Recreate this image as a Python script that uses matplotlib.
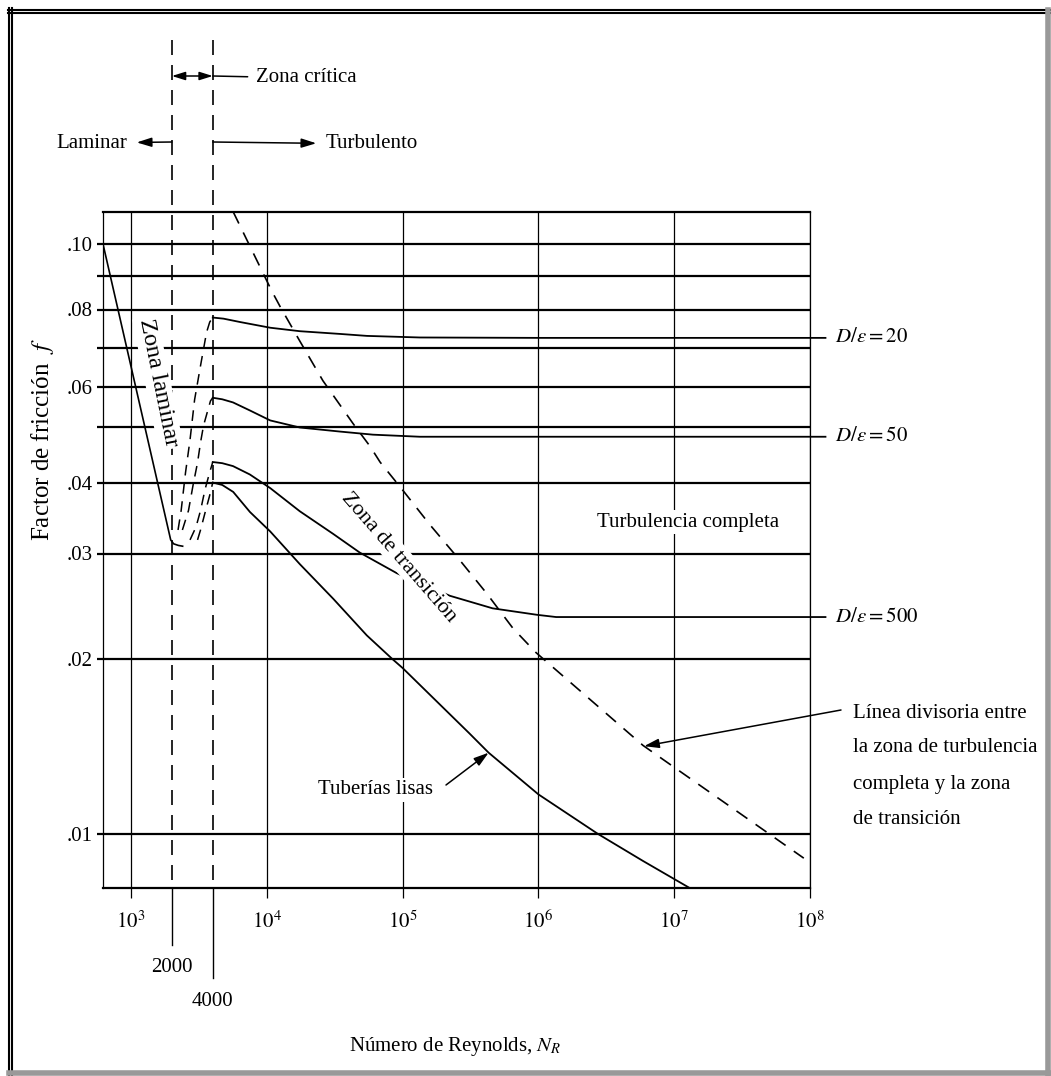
import numpy as np
import matplotlib
matplotlib.use("Agg")
import matplotlib.pyplot as plt
import matplotlib.transforms as mtransforms
from matplotlib.lines import Line2D
from matplotlib.ticker import FixedLocator, NullLocator, FixedFormatter

plt.rcParams['font.family'] = ['Liberation Serif', 'DejaVu Serif']
plt.rcParams['mathtext.fontset'] = 'stix'
plt.rcParams['font.size'] = 15

# ---- values (Re, f) ----
re_laminar = [622, 1960, 2060, 2230, 2400]
f_laminar = [0.100, 0.0317, 0.0312, 0.0310, 0.0309]

# dashed branches inside the critical zone (2000 < Re < 4000)
re_crit_20 = [2220, 2340, 2520, 2720, 2940, 3250, 3600, 3800, 4000]
f_crit_20 = [0.0330, 0.0357, 0.0416, 0.0474, 0.0565, 0.0652, 0.0739, 0.0766, 0.0778]
re_crit_50 = [2390, 2650, 2860, 3090, 3250, 3420, 3690, 3850, 4000]
f_crit_50 = [0.0330, 0.0357, 0.0395, 0.0433, 0.0469, 0.0502, 0.0540, 0.0562, 0.0570]
re_crit_500 = [2720, 3010, 3250, 3510, 3790, 4000]
f_crit_500 = [0.0317, 0.0334, 0.0357, 0.0389, 0.0416, 0.0434]
re_crit_smooth = [3090, 3250, 3510, 3790, 4000]
f_crit_smooth = [0.0317, 0.0330, 0.0354, 0.0379, 0.0400]

# turbulent curves
re_de20 = [4000, 4800, 6350, 10600, 17500, 34600, 54700, 134000, 1e6, 1.3e8]
f_de20 = [0.0778, 0.0775, 0.0766, 0.0751, 0.0742, 0.0735, 0.0730, 0.0726, 0.0725, 0.0725]
re_de50 = [4000, 4700, 5640, 7500, 10600, 17500, 34600, 60500, 134000, 1.3e8]
f_de50 = [0.0570, 0.0566, 0.0558, 0.0538, 0.0514, 0.0498, 0.0490, 0.0484, 0.0480, 0.0480]
re_de500 = [4000, 4700, 5640, 7500, 10600, 17500, 30700, 48500, 91000, 223000,
            460000, 980000, 1.35e6, 1.3e8]
f_de500 = [0.0434, 0.0432, 0.0427, 0.0413, 0.0391, 0.0356, 0.0325, 0.0301, 0.0278,
           0.0255, 0.0243, 0.0237, 0.0235, 0.0235]
re_smooth = [4000, 4700, 5660, 7510, 10600, 17500, 30900, 54500, 84000, 1e5, 3.1e5,
             4.3e5, 1e6, 2.75e6, 5.9e6, 1.3e7]
f_smooth = [0.0400, 0.0396, 0.0385, 0.0355, 0.0328, 0.0288, 0.0252, 0.0219, 0.0200,
            0.0193, 0.0149, 0.0138, 0.0117, 0.0100, 0.0090, 0.0081]

# dividing line between complete turbulence and transition zone
re_divider = [5640, 10900, 12500, 17500, 25900, 43100, 57600, 68200, 100000, 159000,
              265000, 418000, 650000, 960000, 5.9e6, 9.0e7]
f_divider = [0.1110, 0.0853, 0.0809, 0.0717, 0.0614, 0.0507, 0.0462, 0.0434, 0.0388,
             0.0337, 0.0292, 0.0257, 0.0225, 0.0205, 0.0142, 0.0091]

de_labels = [r'$D/\epsilon = 20$', r'$D/\epsilon = 50$', r'$D/\epsilon = 500$']

re_decades = [1e3, 1e4, 1e5, 1e6, 1e7, 1e8]
decade_labels = [r'$10^3$', r'$10^4$', r'$10^5$', r'$10^6$', r'$10^7$', r'$10^8$']
re_zone = [2000, 4000]
zone_labels = ['2000', '4000']

f_rulings = [0.01, 0.02, 0.03, 0.04, 0.05, 0.06, 0.07, 0.08, 0.09, 0.10]
f_ruling_labels = ['.01', '.02', '.03', '.04', '', '.06', '', '.08', '', '.10']

# ---- layout (pixels of the 1051x1076 picture) ----
W, H = 1051, 1076
AX_L, AX_R, AX_T, AX_B = 103, 810, 211.5, 888

# the printed f axis is only roughly logarithmic: rulings sit at these heights
scale_f = [0.001, 0.0081, 0.01, 0.02, 0.03, 0.04, 0.05, 0.06, 0.07, 0.08, 0.09, 0.10, 0.111, 1.0]
scale_px = [1416, 888, 834, 659, 553.5, 482.5, 426.5, 386.5, 348, 309.5, 276, 244, 211.5, -362]
log_sf = np.log10(scale_f)
neg_px = -np.array(scale_px, dtype=float)


def f_to_depth(v):
    v = np.clip(np.asarray(v, dtype=float), 1e-4, 10)
    return np.interp(np.log10(v), log_sf, neg_px)


def depth_to_f(d):
    return 10 ** np.interp(np.asarray(d, dtype=float), neg_px, log_sf)


def fig_x(px):
    return px / W


def fig_y(py):
    return 1 - py / H


def ax_y(py):
    return (AX_B - py) / (AX_B - AX_T)


def on_curve(re, xs, ys):
    return 10 ** np.interp(np.log10(re), np.log10(xs), np.log10(ys))


fig = plt.figure(figsize=(W / 100, H / 100), dpi=100)
ax = fig.add_axes([fig_x(AX_L), fig_y(AX_B), (AX_R - AX_L) / W, (AX_B - AX_T) / H])

ax.set_xscale('log')
ax.set_yscale('function', functions=(f_to_depth, depth_to_f))
ax.set_xlim(622, 1e8)
ax.set_ylim(0.0081, 0.111)

ax.xaxis.set_major_locator(FixedLocator(re_decades))
ax.xaxis.set_major_formatter(FixedFormatter(decade_labels))
ax.xaxis.set_minor_locator(NullLocator())
ax.yaxis.set_major_locator(FixedLocator(f_rulings))
ax.yaxis.set_major_formatter(FixedFormatter(f_ruling_labels))
ax.yaxis.set_minor_locator(NullLocator())

ax.tick_params(axis='x', direction='out', length=7.5, width=0.9, pad=9, labelsize=15)
ax.tick_params(axis='y', direction='out', length=4.5, width=1.6, pad=3, labelsize=15)
ax.grid(axis='y', color='black', lw=1.6)
ax.grid(axis='x', color='black', lw=0.9)
for side in ['top', 'bottom']:
    ax.spines[side].set_linewidth(1.6)
for side in ['left', 'right']:
    ax.spines[side].set_linewidth(0.9)

xtr = ax.get_xaxis_transform()

# critical zone boundaries: dashed through the chart, solid below it
for re, lab, py_end, py_lab in zip(re_zone, zone_labels, [945, 978], [968, 1002]):
    ax.plot([re, re], [ax_y(40), 0], transform=xtr, color='black', lw=1.2,
            dashes=(9, 6), clip_on=False)
    ax.plot([re, re], [0, ax_y(py_end)], transform=xtr, color='black', lw=1.0,
            clip_on=False)
    ax.text(re, ax_y(py_lab), lab, transform=xtr, ha='center', va='center')

# curves
ax.plot(re_laminar, f_laminar, color='black', lw=1.2)
for xs, ys in [(re_crit_20, f_crit_20), (re_crit_50, f_crit_50),
               (re_crit_500, f_crit_500), (re_crit_smooth, f_crit_smooth)]:
    ax.plot(xs, ys, color='black', lw=1.1, dashes=(7, 5))
for xs, ys in [(re_de20, f_de20), (re_de50, f_de50), (re_de500, f_de500)]:
    ax.plot(xs, ys, color='black', lw=1.3, clip_on=False)
ax.plot(re_smooth, f_smooth, color='black', lw=1.3)
ax.plot(re_divider, f_divider, color='black', lw=1.2, dashes=(8, 6))

# D/e labels next to the curve ends
lab_tr = mtransforms.blended_transform_factory(fig.transFigure, ax.transData)
for ys, lab in zip([f_de20, f_de50, f_de500], de_labels):
    ax.text(fig_x(835), ys[-1], lab, transform=lab_tr, ha='left', va='center')

# zone annotations above the chart
head = dict(color='black', lw=1.1, shrinkA=0, shrinkB=0)
ax.annotate('', xy=(re_zone[0], ax_y(76)), xycoords=xtr,
            xytext=(re_zone[1], ax_y(76)), textcoords=xtr,
            arrowprops=dict(arrowstyle='<|-|>,head_length=0.8,head_width=0.25',
                            mutation_scale=10, **head))
ax.annotate('Zona crítica', xy=(re_zone[1], ax_y(76)), xycoords=xtr,
            xytext=(256, H - 78), textcoords='figure pixels', ha='left', va='center',
            arrowprops=dict(arrowstyle='-', color='black', lw=1.1, shrinkA=4, shrinkB=0))
ax.annotate('Laminar', xy=(re_zone[0], ax_y(142)), xycoords=xtr,
            xytext=(127, H - 143), textcoords='figure pixels', ha='right', va='center',
            arrowprops=dict(arrowstyle='<|-,head_length=0.9,head_width=0.28',
                            mutation_scale=10, color='black', lw=1.1, shrinkA=5, shrinkB=0))
ax.annotate('Turbulento', xy=(re_zone[1], ax_y(142)), xycoords=xtr,
            xytext=(326, H - 144), textcoords='figure pixels', ha='left', va='center',
            arrowprops=dict(arrowstyle='<|-,head_length=0.9,head_width=0.28',
                            mutation_scale=10, color='black', lw=1.1, shrinkA=5, shrinkB=0))

# labels inside the chart (white box hides the rulings behind them)
wbox = dict(facecolor='white', edgecolor='none', pad=1.5)
fig.text(fig_x(158), fig_y(383), 'Zona laminar', rotation=-78.5, rotation_mode='anchor',
         ha='center', va='center', fontsize=17.5, bbox=wbox)
fig.text(fig_x(399), fig_y(557), 'Zona de transición', rotation=-49, rotation_mode='anchor',
         ha='center', va='center', fontsize=16, bbox=wbox)
fig.text(fig_x(688), fig_y(522), 'Turbulencia completa', ha='center', va='center', bbox=wbox)
fig.text(fig_x(376), fig_y(790), 'Tuberías lisas', ha='center', va='center', bbox=wbox)

ax.annotate('', xy=(4.3e5, on_curve(4.3e5, re_smooth, f_smooth)), xycoords='data',
            xytext=(446, H - 785), textcoords='figure pixels',
            arrowprops=dict(arrowstyle='-|>,head_length=0.9,head_width=0.28',
                            mutation_scale=10, **head))

note_lines = ['Línea divisoria entre', 'la zona de turbulencia',
              'completa y la zona', 'de transición']
for line, py in zip(note_lines, [713, 748, 784, 820]):
    fig.text(fig_x(853), fig_y(py), line, ha='left', va='center')
ax.annotate('', xy=(6e6, on_curve(6e6, re_divider, f_divider)), xycoords='data',
            xytext=(841, H - 710), textcoords='figure pixels',
            arrowprops=dict(arrowstyle='-|>,head_length=0.9,head_width=0.28',
                            mutation_scale=10, **head))

# axis titles
fig.text(fig_x(43), fig_y(440), 'Factor de fricción  $f$', rotation=90,
         ha='center', va='center', fontsize=18)
fig.text(fig_x(455), fig_y(1047), 'Número de Reynolds, $N_R$', ha='center', va='center')

# page frame of the scan
for py in [10, 13]:
    fig.add_artist(Line2D([fig_x(8), 1], [fig_y(py), fig_y(py)], color='black', lw=1.5))
for px in [9, 12]:
    fig.add_artist(Line2D([fig_x(px), fig_x(px)], [fig_y(8), 0], color='black', lw=1.5))
fig.add_artist(Line2D([fig_x(1048), fig_x(1048)], [fig_y(10), 0], color='0.6', lw=4))
fig.add_artist(Line2D([fig_x(9), 1], [fig_y(1073), fig_y(1073)], color='0.6', lw=4))

fig.savefig('out.png', dpi=100)
